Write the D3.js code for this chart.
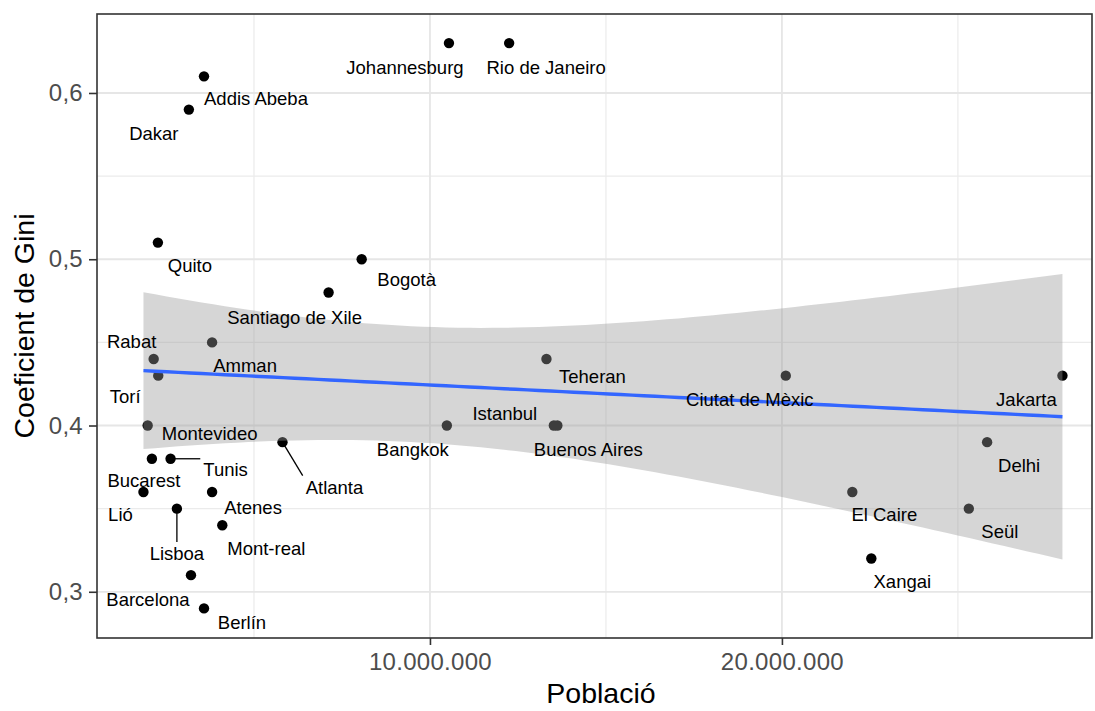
<!DOCTYPE html>
<html>
<head>
<meta charset="utf-8">
<script src="https://cdn.jsdelivr.net/npm/d3@7"></script>
<style>
  html, body { margin: 0; padding: 0; background: #ffffff; }
  svg { display: block; font-family: "Liberation Sans", Arial, sans-serif; }
</style>
</head>
<body>
<svg id="chart" width="1095" height="711"></svg>
<script>
// ---------- data ----------
const cities = ["Addis Abeba","Dakar","Johannesburg","Rio de Janeiro","Quito","Bogotà",
  "Santiago de Xile","Amman","Rabat","Torí","Montevideo","Atlanta","Bucarest","Tunis",
  "Lió","Atenes","Lisboa","Mont-real","Barcelona","Berlín","Bangkok","Teheran",
  "Buenos Aires","Istanbul","Ciutat de Mèxic","Jakarta","Delhi","El Caire","Seül","Xangai"];
const population = [3580000, 3150000, 10540000, 12250000, 2270000, 8060000,
  7120000, 3810000, 2150000, 2280000, 1980000, 5810000, 2100000, 2630000,
  1860000, 3810000, 2810000, 4100000, 3210000, 3580000, 10480000, 13310000,
  13620000, 13520000, 20110000, 27970000, 25830000, 22000000, 25310000, 22540000];
const giniValues = [0.61, 0.59, 0.63, 0.63, 0.51, 0.50,
  0.48, 0.45, 0.44, 0.43, 0.40, 0.39, 0.38, 0.38,
  0.36, 0.36, 0.35, 0.34, 0.31, 0.29, 0.40, 0.44,
  0.40, 0.40, 0.43, 0.43, 0.39, 0.36, 0.35, 0.32];
const xTickValues = [10000000, 20000000];
const xTickLabels = ["10.000.000", "20.000.000"];
const xMinorValues = [5000000, 15000000, 25000000];
const yTickValues = [0.3, 0.4, 0.5, 0.6];
const yTickLabels = ["0,3", "0,4", "0,5", "0,6"];
const yMinorValues = [0.35, 0.45, 0.55];
const xTitle = "Població";
const yTitle = "Coeficient de Gini";

// label placement (repelled text offsets, pixels)
const labelNudge = [[52,22],[-35,24],[-44,24],[37,24],[32,23],[45,20],
  [-34,25],[33,23],[-22,-17],[-33,21],[62,8],[52,45],[-8,22],[55,11],
  [-23,23],[41,16],[0,45],[44,23],[-43,24],[38,14],[-34,24],[46,18],
  [31,24],[-49,-12],[-36,24],[-36,24],[32,23],[32,23],[31,23],[31,23]];

// ---------- layout ----------
const panel = {left: 97, top: 14, right: 1092, bottom: 638};
const svg = d3.select("#chart");

const x = d3.scaleLinear().domain([540000, 28810000]).range([panel.left, panel.right]);
const y = d3.scaleLinear().domain([0.2722, 0.6475]).range([panel.bottom, panel.top]);

const data = cities.map((c, i) => ({city: c, pop: population[i], gini: giniValues[i], nudge: labelNudge[i]}));

// panel background
svg.append("rect").attr("x", panel.left).attr("y", panel.top)
  .attr("width", panel.right - panel.left).attr("height", panel.bottom - panel.top)
  .attr("fill", "#ffffff");

const grid = svg.append("g");
grid.selectAll(".xminor").data(xMinorValues).join("line")
  .attr("x1", d => x(d)).attr("x2", d => x(d)).attr("y1", panel.top).attr("y2", panel.bottom)
  .attr("stroke", "#ebebeb").attr("stroke-width", 1.2);
grid.selectAll(".yminor").data(yMinorValues).join("line")
  .attr("y1", d => y(d)).attr("y2", d => y(d)).attr("x1", panel.left).attr("x2", panel.right)
  .attr("stroke", "#ebebeb").attr("stroke-width", 1.2);
grid.selectAll(".xmajor").data(xTickValues).join("line")
  .attr("x1", d => x(d)).attr("x2", d => x(d)).attr("y1", panel.top).attr("y2", panel.bottom)
  .attr("stroke", "#e6e6e6").attr("stroke-width", 1.8);
grid.selectAll(".ymajor").data(yTickValues).join("line")
  .attr("y1", d => y(d)).attr("y2", d => y(d)).attr("x1", panel.left).attr("x2", panel.right)
  .attr("stroke", "#e6e6e6").attr("stroke-width", 1.8);

// points (drawn beneath the smoother, as in ggplot)
svg.append("g").selectAll("circle").data(data).join("circle")
  .attr("cx", d => x(d.pop)).attr("cy", d => y(d.gini)).attr("r", 5.2)
  .attr("fill", "#000000");

// linear model + 95% confidence band
const n = data.length;
const mx = d3.mean(data, d => d.pop), my = d3.mean(data, d => d.gini);
const sxx = d3.sum(data, d => (d.pop - mx) ** 2);
const sxy = d3.sum(data, d => (d.pop - mx) * (d.gini - my));
const slope = sxy / sxx, intercept = my - slope * mx;
const sse = d3.sum(data, d => (d.gini - (intercept + slope * d.pop)) ** 2);
const s = Math.sqrt(sse / (n - 2));
const tq = 2.0484; // qt(0.975, 28)
const [pMin, pMax] = d3.extent(data, d => d.pop);
const fit = d3.range(80).map(i => {
  const px = pMin + (pMax - pMin) * i / 79;
  const yh = intercept + slope * px;
  const se = s * Math.sqrt(1 / n + (px - mx) ** 2 / sxx);
  return {pop: px, fit: yh, lo: yh - tq * se, hi: yh + tq * se};
});

svg.append("path").datum(fit)
  .attr("d", d3.area().x(d => x(d.pop)).y0(d => y(d.lo)).y1(d => y(d.hi)))
  .attr("fill", "#999999").attr("fill-opacity", 0.4);
svg.append("path").datum(fit)
  .attr("d", d3.line().x(d => x(d.pop)).y(d => y(d.fit)))
  .attr("fill", "none").attr("stroke", "#3366FF").attr("stroke-width", 3.4);

// labels with segments
const labG = svg.append("g");
data.forEach(d => {
  const px = x(d.pop), py = y(d.gini);
  const t = labG.append("text")
    .attr("x", px + d.nudge[0]).attr("y", py + d.nudge[1])
    .attr("dy", "0.35em").attr("text-anchor", "middle")
    .attr("font-size", "18.5px").attr("fill", "#000000")
    .text(d.city);
  const b = t.node().getBBox();
  const pad = 3;
  const bx0 = b.x - pad, bx1 = b.x + b.width + pad, by0 = b.y + 2 - pad, by1 = b.y + b.height - 2 + pad;
  const cx = Math.max(bx0, Math.min(px, bx1));
  const cy = Math.max(by0, Math.min(py, by1));
  const dist = Math.hypot(cx - px, cy - py);
  if (dist > 26) {
    labG.insert("line", "text").attr("x1", px).attr("y1", py).attr("x2", cx).attr("y2", cy)
      .attr("stroke", "#000000").attr("stroke-width", 1.3);
  }
});

// panel border
svg.append("rect").attr("x", panel.left).attr("y", panel.top)
  .attr("width", panel.right - panel.left).attr("height", panel.bottom - panel.top)
  .attr("fill", "none").attr("stroke", "#333333").attr("stroke-width", 1.6);

// axes
const xAxis = d3.axisBottom(x).tickValues(xTickValues)
  .tickFormat((d, i) => xTickLabels[i]).tickSize(7).tickPadding(8);
const gx = svg.append("g").attr("transform", `translate(0,${panel.bottom})`).call(xAxis);
gx.select(".domain").remove();
gx.selectAll(".tick line").attr("stroke", "#333333").attr("stroke-width", 1.6);
gx.selectAll(".tick text").attr("fill", "#4d4d4d").attr("font-size", "24px")
  .attr("font-family", "Liberation Sans, Arial, sans-serif").attr("letter-spacing", "0.3px");

const yAxis = d3.axisLeft(y).tickValues(yTickValues)
  .tickFormat((d, i) => yTickLabels[i]).tickSize(8).tickPadding(6);
const gy = svg.append("g").attr("transform", `translate(${panel.left},0)`).call(yAxis);
gy.select(".domain").remove();
gy.selectAll(".tick line").attr("stroke", "#333333").attr("stroke-width", 1.6);
gy.selectAll(".tick text").attr("fill", "#4d4d4d").attr("font-size", "24px")
  .attr("font-family", "Liberation Sans, Arial, sans-serif").attr("letter-spacing", "0.3px");

// titles
svg.append("text").attr("x", 601).attr("y", 703).attr("text-anchor", "middle")
  .attr("font-size", "28.5px").attr("fill", "#000000").text(xTitle);
svg.append("text").attr("transform", `translate(34,${(panel.top + panel.bottom) / 2}) rotate(-90)`)
  .attr("text-anchor", "middle").attr("font-size", "28.5px").attr("fill", "#000000").text(yTitle);
</script>
</body>
</html>
